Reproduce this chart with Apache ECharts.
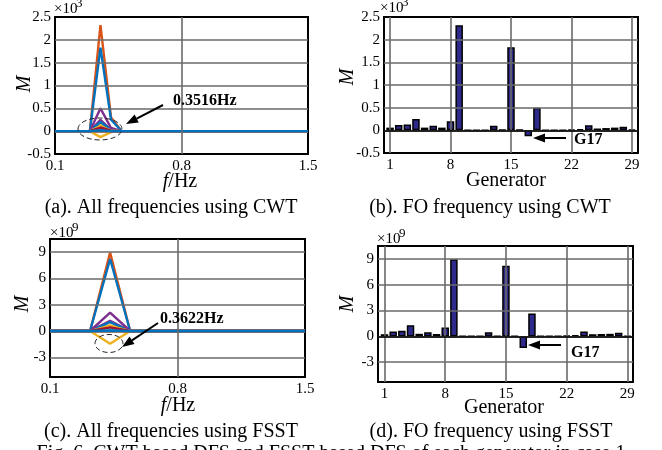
<!DOCTYPE html>
<html><head><meta charset="utf-8">
<script src="https://cdn.jsdelivr.net/npm/echarts@6/dist/echarts.min.js"></script>
<style>html,body{margin:0;padding:0;background:#fff}#c{width:662px;height:450px}</style>
</head><body><div id="c"></div>
<script>
// ---------- data ----------
const generators = [1,2,3,4,5,6,7,8,9,10,11,12,13,14,15,16,17,18,19,20,21,22,23,24,25,26,27,28,29];
// (b) CWT FO-frequency magnitude per generator (x10^3)
const cwtBar = [0.06,0.12,0.13,0.25,0.06,0.10,0.06,0.20,2.32,0.005,0.005,0.005,0.10,0.01,1.83,0.01,-0.13,0.50,0.005,0.005,0.005,0.02,0.03,0.11,0.04,0.05,0.06,0.08,0.02];
// (d) FSST FO-frequency magnitude per generator (x10^9)
const fsstBar = [0.25,0.58,0.65,1.30,0.30,0.48,0.28,1.02,8.95,0.03,0.03,0.03,0.48,0.03,8.22,0.05,-1.35,2.66,0.03,0.03,0.03,0.10,0.12,0.58,0.25,0.28,0.30,0.42,0.05];
// (a) CWT spectra: frequency grid, value at peak and at right shoulder
const cwtFreq = [0.1, 0.293, 0.3516, 0.4102, 0.4688, 1.5];
const cwtPeak = [0.06,0.12,0.13,0.25,0.06,0.10,0.06,0.20,2.32,0.005,0.005,0.005,0.10,0.01,1.83,0.01,-0.13,0.50,0.005,0.005,0.005,0.02,0.03,0.11,0.04,0.05,0.06,0.08,0.02];
const cwtRight = [0.01,0.02,0.02,0.03,0.01,0.01,0.01,0.03,0.30,0,0,0,0.01,0,0.25,0,-0.02,0.07,0,0,0,0,0,0.01,0,0.01,0.01,0.01,0];
// (c) FSST spectra: frequency grid and peak value
const fsstFreq = [0.1, 0.32, 0.43, 0.54, 1.5];
const fsstPeak = [0.25,0.58,0.65,1.15,0.30,0.48,0.28,1.02,8.95,0.03,0.03,0.03,0.48,0.03,8.22,0.05,-1.45,2.10,0.03,0.03,0.03,0.10,0.12,0.58,0.25,0.28,0.30,0.42,0.05];
// ticks
const freqTicks = [0.1, 0.8, 1.5];
const genTicks = [1, 8, 15, 22, 29];
const cwtYTicks = [-0.5, 0, 0.5, 1, 1.5, 2, 2.5];
const fsstYTicks = [-3, 0, 3, 6, 9];

// ---------- styling ----------
const FONT = "'Liberation Serif','Times New Roman',serif";
const COLORS = ['#0072BD','#D95319','#EDB120','#7E2F8E','#77AC30','#4DBEEE','#A2142F'];
const BAR = '#2E2A8C';

const chart = echarts.init(document.getElementById('c'), null, {renderer:'canvas'});

const grids = [
  {left:55, top:17, width:253, height:137},
  {left:384, top:17, width:254, height:136},
  {left:50, top:239, width:255, height:138},
  {left:378, top:246, width:255, height:136}
].map(g => Object.assign(g, {show:true, borderColor:'#000', borderWidth:2, backgroundColor:'rgba(0,0,0,0)'}));

function axis(gi, min, max, ticks, isY) {
  return {
    type:'value', gridIndex:gi, min:min, max:max,
    axisLine:{show:false}, axisTick:{show:false}, splitLine:{show:false},
    axisLabel:{customValues:ticks, fontFamily:FONT, fontSize:15, color:'#000', margin: isY ? 4 : 5,
      formatter: v => String(+v.toFixed(2))}
  };
}
const xAxes = [
  axis(0, 0.1, 1.5, freqTicks, false),
  axis(1, 0.3, 29.7, genTicks, false),
  axis(2, 0.1, 1.5, freqTicks, false),
  axis(3, 0.25, 29.65, genTicks, false)
];
const yAxes = [
  axis(0, -0.5, 2.5, cwtYTicks, true),
  axis(1, -0.5, 2.5, cwtYTicks, true),
  axis(2, -5.25, 10.5, fsstYTicks, true),
  axis(3, -5.3, 10.5, fsstYTicks, true)
];

function gridLines(gi, xs, ys, x0, y0) {
  return {
    type:'line', xAxisIndex:gi, yAxisIndex:gi, data:[[x0, y0]], showSymbol:false, silent:true, z:1,
    lineStyle:{width:0},
    markLine:{silent:true, symbol:['none','none'], label:{show:false}, animation:false,
      lineStyle:{color:'#6a6a6a', width:1.6, type:'solid'},
      data:[...ys.map(v => ({yAxis:v})), ...xs.map(v => ({xAxis:v}))]}
  };
}

const series = [];
series.push(gridLines(0, [0.8], cwtYTicks.filter(v => v > -0.5 && v < 2.5 && v !== 0), 0.1, 0));
series.push(gridLines(1, genTicks, cwtYTicks.filter(v => v > -0.5 && v < 2.5), 1, 0));
series.push(gridLines(2, [0.8], fsstYTicks.filter(v => v !== 0), 0.1, 0));
series.push(gridLines(3, genTicks, fsstYTicks, 1, 0));

// (a) CWT spectra lines
generators.forEach((g, i) => {
  series.push({
    type:'line', xAxisIndex:0, yAxisIndex:0, showSymbol:false, silent:true, z:3,
    lineStyle:{width:2.4, color:COLORS[i % 7]}, itemStyle:{color:COLORS[i % 7]},
    data:[[cwtFreq[0],0],[cwtFreq[1],0],[cwtFreq[2],cwtPeak[i]],[cwtFreq[3],cwtRight[i]],[cwtFreq[4],0],[cwtFreq[5],0]]
  });
});
// (c) FSST spectra lines
generators.forEach((g, i) => {
  series.push({
    type:'line', xAxisIndex:2, yAxisIndex:2, showSymbol:false, silent:true, z:3,
    lineStyle:{width:2.4, color:COLORS[i % 7]}, itemStyle:{color:COLORS[i % 7]},
    data:[[fsstFreq[0],0],[fsstFreq[1],0],[fsstFreq[2],fsstPeak[i]],[fsstFreq[3],0],[fsstFreq[4],0]]
  });
});
// (b),(d) bars
function bars(gi, vals) {
  return {
    type:'bar', xAxisIndex:gi, yAxisIndex:gi, barWidth:7.5, silent:true, z:3,
    itemStyle:{color:BAR, borderColor:'#000', borderWidth:1.5},
    data: generators.map((g, i) => [g, vals[i]]),
    markLine:{silent:true, symbol:['none','none'], label:{show:false}, animation:false,
      lineStyle:{color:'#000', width:1.6, type:'solid'}, data:[{yAxis:0}]}
  };
}
series.push(bars(1, cwtBar));
series.push(bars(3, fsstBar));

// ---------- annotations ----------
const g = [];
function txt(x, y, s, opt) {
  g.push({type:'text', x:x, y:y, z:50, rotation: (opt && opt.rot) || 0,
    style:Object.assign({text:s, fontFamily:FONT, fontSize:20, fill:'#000', align:'center', verticalAlign:'middle'}, (opt && opt.style) || {})});
}
function arrow(x1, y1, x2, y2) {
  const a = Math.atan2(y2 - y1, x2 - x1), L = 12, W = 4.5;
  const bx = x2 - L * Math.cos(a), by = y2 - L * Math.sin(a);
  g.push({type:'line', z:50, shape:{x1:x1, y1:y1, x2:bx, y2:by}, style:{stroke:'#000', lineWidth:2}});
  g.push({type:'polygon', z:50, shape:{points:[[x2, y2], [bx + W * Math.sin(a), by - W * Math.cos(a)], [bx - W * Math.sin(a), by + W * Math.cos(a)]]}, style:{fill:'#000'}});
}
function ellipse(cx, cy, rx, ry) {
  g.push({type:'ellipse', z:50, shape:{cx:cx, cy:cy, rx:rx, ry:ry}, style:{fill:'none', stroke:'#222', lineWidth:1, lineDash:[5, 3]}});
}
function expo(x, y, p) {
  txt(x, y, '\u00d710', {style:{align:'left', fontSize:15}});
  txt(x + 22, y - 5, p, {style:{align:'left', fontSize:13}});
}
// exponents
expo(54, 9, '3');
expo(380, 8, '3');
expo(50, 233, '9');
expo(377, 239, '9');
// y names
txt(25, 84, 'M', {rot:Math.PI / 2, style:{fontStyle:'italic'}});
txt(348, 77, 'M', {rot:Math.PI / 2, style:{fontStyle:'italic'}});
txt(23, 304, 'M', {rot:Math.PI / 2, style:{fontStyle:'italic'}});
txt(348, 304, 'M', {rot:Math.PI / 2, style:{fontStyle:'italic'}});
// x names
const fhz = {text:'{i|f}/Hz', rich:{i:{fontStyle:'italic', fontFamily:FONT, fontSize:20}}};
txt(180, 182, '', {style:fhz});
txt(178, 406, '', {style:fhz});
txt(506, 181, 'Generator');
txt(504, 408, 'Generator');
// captions
txt(171, 208, '(a). All frequencies using CWT');
txt(490, 208, '(b). FO frequency using CWT');
txt(171, 432, '(c). All frequencies using FSST');
txt(491, 432, '(d). FO frequency using FSST');
txt(331, 454, 'Fig. 6. CWT based DFS and FSST based DFS of each generator in case 1');
// annotations
const bold = {style:{fontWeight:'bold', fontSize:16, align:'left'}};
txt(173, 101, '0.3516Hz', bold);
arrow(163, 105, 126, 124);
ellipse(100, 129, 22, 11);
txt(160, 319, '0.3622Hz', bold);
arrow(158, 323, 122, 347);
ellipse(109, 343.5, 14, 9);
txt(574, 140, 'G17', bold);
arrow(566, 138, 533, 138);
txt(571, 353, 'G17', bold);
arrow(561, 345, 528, 345);

chart.setOption({
  animation:false,
  backgroundColor:'#fff',
  grid:grids, xAxis:xAxes, yAxis:yAxes, series:series, graphic:g
});
</script></body></html>
